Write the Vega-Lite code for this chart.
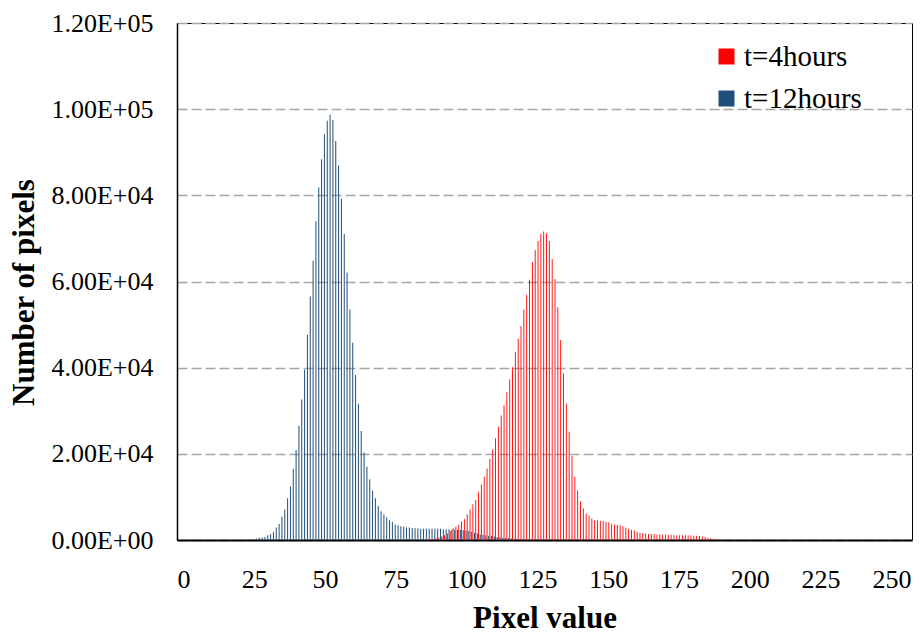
{
  "$schema": "https://vega.github.io/schema/vega-lite/v6.json",
  "width": 735,
  "height": 517,
  "autosize": {"type": "none"},
  "padding": {"left": 177, "top": 23, "right": 8, "bottom": 93},
  "background": "white",
  "config": {"font": "Liberation Serif", "view": {"stroke": "#000", "strokeWidth": 1}},
  "data": {"values": [
    {"s":"t=12hours","v":24,"n":100},{"s":"t=12hours","v":25,"n":200},{"s":"t=12hours","v":26,"n":350},
    {"s":"t=12hours","v":27,"n":500},{"s":"t=12hours","v":28,"n":600},{"s":"t=12hours","v":29,"n":700},
    {"s":"t=12hours","v":30,"n":1100},{"s":"t=12hours","v":31,"n":1400},{"s":"t=12hours","v":32,"n":1900},
    {"s":"t=12hours","v":33,"n":2900},{"s":"t=12hours","v":34,"n":3700},{"s":"t=12hours","v":35,"n":5400},
    {"s":"t=12hours","v":36,"n":7100},{"s":"t=12hours","v":37,"n":9700},{"s":"t=12hours","v":38,"n":12400},
    {"s":"t=12hours","v":39,"n":16500},{"s":"t=12hours","v":40,"n":20900},{"s":"t=12hours","v":41,"n":26500},
    {"s":"t=12hours","v":42,"n":32600},{"s":"t=12hours","v":43,"n":39500},{"s":"t=12hours","v":44,"n":47600},
    {"s":"t=12hours","v":45,"n":56500},{"s":"t=12hours","v":46,"n":64800},{"s":"t=12hours","v":47,"n":74000},
    {"s":"t=12hours","v":48,"n":81800},{"s":"t=12hours","v":49,"n":88400},{"s":"t=12hours","v":50,"n":94200},
    {"s":"t=12hours","v":51,"n":97300},{"s":"t=12hours","v":52,"n":98700},{"s":"t=12hours","v":53,"n":97500},
    {"s":"t=12hours","v":54,"n":92600},{"s":"t=12hours","v":55,"n":86900},{"s":"t=12hours","v":56,"n":79200},
    {"s":"t=12hours","v":57,"n":71000},{"s":"t=12hours","v":58,"n":62100},{"s":"t=12hours","v":59,"n":53500},
    {"s":"t=12hours","v":60,"n":45800},{"s":"t=12hours","v":61,"n":38300},{"s":"t=12hours","v":62,"n":31600},
    {"s":"t=12hours","v":63,"n":25300},{"s":"t=12hours","v":64,"n":20300},{"s":"t=12hours","v":65,"n":17000},
    {"s":"t=12hours","v":66,"n":14100},{"s":"t=12hours","v":67,"n":11500},{"s":"t=12hours","v":68,"n":9700},
    {"s":"t=12hours","v":69,"n":7900},{"s":"t=12hours","v":70,"n":6700},{"s":"t=12hours","v":71,"n":5900},
    {"s":"t=12hours","v":72,"n":5300},{"s":"t=12hours","v":73,"n":4600},{"s":"t=12hours","v":74,"n":4200},
    {"s":"t=12hours","v":75,"n":3600},{"s":"t=12hours","v":76,"n":3400},{"s":"t=12hours","v":77,"n":3200},
    {"s":"t=12hours","v":78,"n":3100},{"s":"t=12hours","v":79,"n":2900},{"s":"t=12hours","v":80,"n":2900},
    {"s":"t=12hours","v":81,"n":2800},{"s":"t=12hours","v":82,"n":2700},{"s":"t=12hours","v":83,"n":2700},
    {"s":"t=12hours","v":84,"n":2600},{"s":"t=12hours","v":85,"n":2600},{"s":"t=12hours","v":86,"n":2600},
    {"s":"t=12hours","v":87,"n":2600},{"s":"t=12hours","v":88,"n":2600},{"s":"t=12hours","v":89,"n":2600},
    {"s":"t=12hours","v":90,"n":2600},{"s":"t=12hours","v":91,"n":2600},{"s":"t=12hours","v":92,"n":2500},
    {"s":"t=12hours","v":93,"n":2500},{"s":"t=12hours","v":94,"n":2500},{"s":"t=12hours","v":95,"n":2400},
    {"s":"t=12hours","v":96,"n":2400},{"s":"t=12hours","v":97,"n":2400},{"s":"t=12hours","v":98,"n":2300},
    {"s":"t=12hours","v":99,"n":2300},{"s":"t=12hours","v":100,"n":2200},{"s":"t=12hours","v":101,"n":2100},
    {"s":"t=12hours","v":102,"n":1900},{"s":"t=12hours","v":103,"n":1700},{"s":"t=12hours","v":104,"n":1500},
    {"s":"t=12hours","v":105,"n":1300},{"s":"t=12hours","v":106,"n":1200},{"s":"t=12hours","v":107,"n":1100},
    {"s":"t=12hours","v":108,"n":1000},{"s":"t=12hours","v":109,"n":900},{"s":"t=12hours","v":110,"n":800},
    {"s":"t=12hours","v":111,"n":700},{"s":"t=12hours","v":112,"n":600},{"s":"t=12hours","v":113,"n":500},
    {"s":"t=12hours","v":114,"n":450},{"s":"t=12hours","v":115,"n":400},{"s":"t=12hours","v":116,"n":350},
    {"s":"t=12hours","v":117,"n":300},{"s":"t=12hours","v":118,"n":250},{"s":"t=12hours","v":119,"n":200},
    {"s":"t=12hours","v":120,"n":150},{"s":"t=12hours","v":121,"n":120},{"s":"t=12hours","v":122,"n":100},
    {"s":"t=12hours","v":123,"n":80},{"s":"t=12hours","v":124,"n":60},{"s":"t=12hours","v":125,"n":40},
    {"s":"t=4hours","v":86,"n":100},{"s":"t=4hours","v":87,"n":150},{"s":"t=4hours","v":88,"n":250},
    {"s":"t=4hours","v":89,"n":400},{"s":"t=4hours","v":90,"n":600},{"s":"t=4hours","v":91,"n":800},
    {"s":"t=4hours","v":92,"n":1100},{"s":"t=4hours","v":93,"n":1500},{"s":"t=4hours","v":94,"n":2100},
    {"s":"t=4hours","v":95,"n":2700},{"s":"t=4hours","v":96,"n":3100},{"s":"t=4hours","v":97,"n":3500},
    {"s":"t=4hours","v":98,"n":4300},{"s":"t=4hours","v":99,"n":4900},{"s":"t=4hours","v":100,"n":6000},
    {"s":"t=4hours","v":101,"n":7100},{"s":"t=4hours","v":102,"n":8300},{"s":"t=4hours","v":103,"n":9300},
    {"s":"t=4hours","v":104,"n":11100},{"s":"t=4hours","v":105,"n":12800},{"s":"t=4hours","v":106,"n":14700},
    {"s":"t=4hours","v":107,"n":16600},{"s":"t=4hours","v":108,"n":18800},{"s":"t=4hours","v":109,"n":21000},
    {"s":"t=4hours","v":110,"n":23600},{"s":"t=4hours","v":111,"n":26300},{"s":"t=4hours","v":112,"n":28900},
    {"s":"t=4hours","v":113,"n":31300},{"s":"t=4hours","v":114,"n":34300},{"s":"t=4hours","v":115,"n":37300},
    {"s":"t=4hours","v":116,"n":40100},{"s":"t=4hours","v":117,"n":43700},{"s":"t=4hours","v":118,"n":46700},
    {"s":"t=4hours","v":119,"n":49700},{"s":"t=4hours","v":120,"n":53500},{"s":"t=4hours","v":121,"n":56900},
    {"s":"t=4hours","v":122,"n":60400},{"s":"t=4hours","v":123,"n":64500},{"s":"t=4hours","v":124,"n":67300},
    {"s":"t=4hours","v":125,"n":69400},{"s":"t=4hours","v":126,"n":71000},{"s":"t=4hours","v":127,"n":71600},
    {"s":"t=4hours","v":128,"n":71200},{"s":"t=4hours","v":129,"n":69400},{"s":"t=4hours","v":130,"n":65200},
    {"s":"t=4hours","v":131,"n":60600},{"s":"t=4hours","v":132,"n":54000},{"s":"t=4hours","v":133,"n":46400},
    {"s":"t=4hours","v":134,"n":38700},{"s":"t=4hours","v":135,"n":31700},{"s":"t=4hours","v":136,"n":25100},
    {"s":"t=4hours","v":137,"n":19500},{"s":"t=4hours","v":138,"n":14700},{"s":"t=4hours","v":139,"n":11500},
    {"s":"t=4hours","v":140,"n":9000},{"s":"t=4hours","v":141,"n":7300},{"s":"t=4hours","v":142,"n":6100},
    {"s":"t=4hours","v":143,"n":5600},{"s":"t=4hours","v":144,"n":5000},{"s":"t=4hours","v":145,"n":4600},
    {"s":"t=4hours","v":146,"n":4500},{"s":"t=4hours","v":147,"n":4400},{"s":"t=4hours","v":148,"n":4400},
    {"s":"t=4hours","v":149,"n":4200},{"s":"t=4hours","v":150,"n":4100},{"s":"t=4hours","v":151,"n":3700},
    {"s":"t=4hours","v":152,"n":3600},{"s":"t=4hours","v":153,"n":3500},{"s":"t=4hours","v":154,"n":3400},
    {"s":"t=4hours","v":155,"n":3200},{"s":"t=4hours","v":156,"n":2900},{"s":"t=4hours","v":157,"n":2600},
    {"s":"t=4hours","v":158,"n":2300},{"s":"t=4hours","v":159,"n":2200},{"s":"t=4hours","v":160,"n":1900},
    {"s":"t=4hours","v":161,"n":1700},{"s":"t=4hours","v":162,"n":1600},{"s":"t=4hours","v":163,"n":1500},
    {"s":"t=4hours","v":164,"n":1400},{"s":"t=4hours","v":165,"n":1400},{"s":"t=4hours","v":166,"n":1400},
    {"s":"t=4hours","v":167,"n":1300},{"s":"t=4hours","v":168,"n":1300},{"s":"t=4hours","v":169,"n":1200},
    {"s":"t=4hours","v":170,"n":1200},{"s":"t=4hours","v":171,"n":1200},{"s":"t=4hours","v":172,"n":1200},
    {"s":"t=4hours","v":173,"n":1100},{"s":"t=4hours","v":174,"n":1100},{"s":"t=4hours","v":175,"n":1100},
    {"s":"t=4hours","v":176,"n":1100},{"s":"t=4hours","v":177,"n":1100},{"s":"t=4hours","v":178,"n":1100},
    {"s":"t=4hours","v":179,"n":1100},{"s":"t=4hours","v":180,"n":1000},{"s":"t=4hours","v":181,"n":1000},
    {"s":"t=4hours","v":182,"n":900},{"s":"t=4hours","v":183,"n":800},{"s":"t=4hours","v":184,"n":700},
    {"s":"t=4hours","v":185,"n":500},{"s":"t=4hours","v":186,"n":400},{"s":"t=4hours","v":187,"n":300},
    {"s":"t=4hours","v":188,"n":200},{"s":"t=4hours","v":189,"n":100},{"s":"t=4hours","v":190,"n":50}
  ]},
  "encoding": {
    "x": {
      "field": "v", "type": "quantitative",
      "scale": {"domain": [-0.5, 255.5], "nice": false, "zero": false},
      "axis": {
        "values": [0, 25, 50, 75, 100, 125, 150, 175, 200, 225, 250],
        "labelFont": "Liberation Serif",
        "labelFontSize": 26, "labelColor": "#000", "labelPadding": 26,
        "labelFlush": false, "labelOverlap": false,
        "ticks": false, "grid": false,
        "domainColor": "#000", "domainWidth": 2,
        "title": "Pixel value", "titleFont": "Liberation Serif", "titleFontSize": 31, "titleFontWeight": "bold", "titleColor": "#000",
        "titleY": 87, "titleBaseline": "alphabetic"
      }
    },
    "y": {
      "field": "n", "type": "quantitative",
      "scale": {"domain": [0, 120000], "nice": false},
      "axis": {
        "values": [0, 20000, 40000, 60000, 80000, 100000, 120000],
        "labelExpr": "datum.value == 0 ? '0.00E+00' : (datum.value >= 100000 ? format(datum.value / 100000, '.2f') + 'E+05' : format(datum.value / 10000, '.2f') + 'E+04')",
        "labelFont": "Liberation Serif",
        "labelFontSize": 26, "labelColor": "#000", "labelPadding": 24,
        "labelFlush": false, "labelOverlap": false,
        "ticks": false,
        "domainColor": "#000", "domainWidth": 1.5,
        "gridColor": "#A6A6A6", "gridDash": [10, 4], "gridWidth": 1.5,
        "title": "Number of pixels", "titleFont": "Liberation Serif", "titleFontSize": 31, "titleFontWeight": "bold", "titleColor": "#000",
        "titleX": -144, "titleY": 269, "titleBaseline": "alphabetic", "titleAlign": "center", "titleAngle": -90
      }
    },
    "color": {
      "field": "s", "type": "nominal",
      "scale": {"domain": ["t=4hours", "t=12hours"], "range": ["#FF0000", "#1F4E79"]},
      "legend": {
        "title": null, "orient": "none", "legendX": 535, "legendY": 19,
        "symbolType": "square", "symbolSize": 256, "symbolStrokeWidth": 0,
        "labelFont": "Liberation Serif",
        "labelFontSize": 29, "labelColor": "#000", "labelOffset": 3,
        "rowPadding": 12, "padding": 0
      }
    }
  },
  "layer": [
    {"transform": [{"filter": "datum.s == 't=12hours'"}], "mark": {"type": "bar", "orient": "vertical", "width": 1, "xOffset": -0.6}},
    {"transform": [{"filter": "datum.s == 't=4hours'"}], "mark": {"type": "bar", "orient": "vertical", "width": 0.9, "xOffset": 0.6}}
  ]
}
